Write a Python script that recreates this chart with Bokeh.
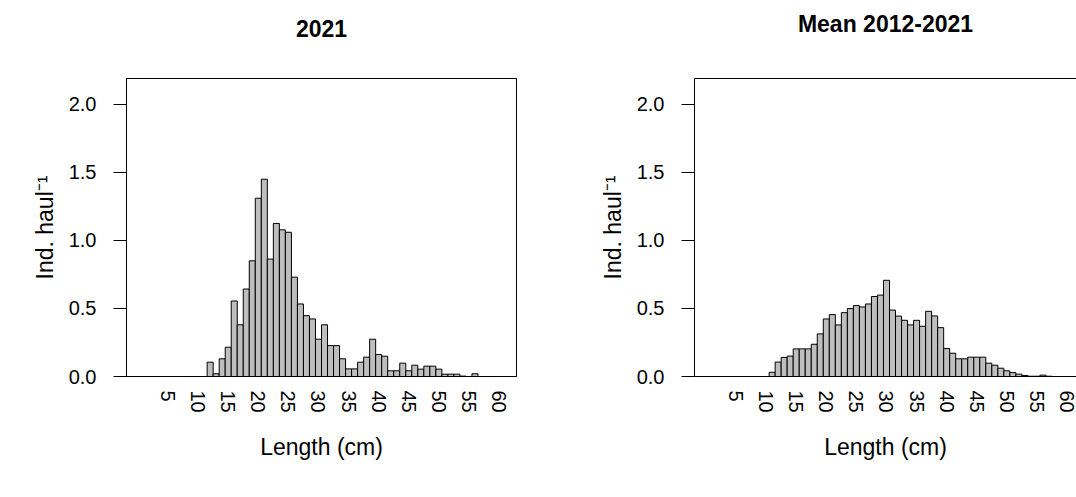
from bokeh.plotting import figure
from bokeh.layouts import row
from bokeh.models import Range1d, FixedTicker, LinearAxis, PrintfTickFormatter
from bokeh.embed import file_html
from bokeh.resources import INLINE

# ---------------- data ----------------
lengths = list(range(1, 61))

ind_2021 = [0, 0, 0, 0, 0, 0, 0, 0, 0, 0, 0,
            0.105, 0.02, 0.13, 0.215, 0.555, 0.38, 0.643, 0.85, 1.31,
            1.45, 0.863, 1.125, 1.078, 1.06, 0.73, 0.533, 0.447, 0.423, 0.274,
            0.38, 0.227, 0.227, 0.13, 0.056, 0.056, 0.105, 0.142, 0.274, 0.161,
            0.149, 0.042, 0.042, 0.098, 0.042, 0.083, 0.054, 0.076, 0.076, 0.054,
            0.017, 0.017, 0.017, 0.003, 0.0, 0.02, 0, 0, 0, 0]

ind_mean = [0, 0, 0, 0, 0, 0, 0, 0, 0, 0,
            0.031, 0.106, 0.14, 0.15, 0.203, 0.203, 0.203, 0.237, 0.313, 0.423,
            0.455, 0.379, 0.469, 0.499, 0.521, 0.511, 0.533, 0.588, 0.598, 0.707,
            0.488, 0.444, 0.413, 0.379, 0.413, 0.369, 0.479, 0.445, 0.359, 0.205,
            0.171, 0.130, 0.130, 0.142, 0.142, 0.142, 0.098, 0.083, 0.061, 0.042,
            0.029, 0.017, 0.007, 0.002, 0.002, 0.01, 0.002, 0, 0, 0]

x_tick_labels = [5, 10, 15, 20, 25, 30, 35, 40, 45, 50, 55, 60]
y_ticks = [0.0, 0.5, 1.0, 1.5, 2.0]
panel_titles = ["2021", "Mean 2012-2021"]
x_label = "Length (cm)"
y_label = "Ind. haul\u207b\u00b9"

FONT = "Liberation Sans"
TICK_FS = "20px"
LAB_FS = "23px"
TITLE_FS = "23px"

FRAME_W = 390
FRAME_H = 298
HEIGHT = 497
TOP = 78
Y_MAX = 2.19
PAD = 0.04 * len(lengths)
X_START = lengths[0] - 0.5 - PAD
X_END_FULL = lengths[-1] + 0.5 + PAD


def make_panel(title, values, width, min_left, min_right, outline):
    frame_w = width - min_left - min_right
    x_end = X_START + (X_END_FULL - X_START) * frame_w / FRAME_W
    p = figure(width=width, height=HEIGHT, output_backend="svg", toolbar_location=None,
               x_range=Range1d(X_START, x_end), y_range=Range1d(0, Y_MAX),
               min_border_left=min_left, min_border_right=min_right,
               min_border_top=TOP, min_border_bottom=HEIGHT - TOP - FRAME_H,
               x_axis_location="below", y_axis_location="left")
    p.background_fill_color = "white"
    p.border_fill_color = "white"
    p.xgrid.visible = False
    p.ygrid.visible = False
    p.outline_line_color = "black" if outline else None
    p.outline_line_width = 1

    p.vbar(x=lengths, top=values, bottom=0, width=1.0,
           fill_color="#bebebe", line_color="black", line_width=1)

    # y axis
    ya = p.yaxis[0]
    ya.ticker = FixedTicker(ticks=y_ticks)
    ya.formatter = PrintfTickFormatter(format="%.1f")
    ya.major_tick_out = 13
    ya.major_tick_in = 0
    ya.minor_tick_out = 0
    ya.minor_tick_in = 0
    ya.major_tick_line_color = "black"
    ya.axis_line_color = "black"
    ya.major_label_standoff = 17
    ya.major_label_text_font = FONT
    ya.major_label_text_font_size = TICK_FS
    ya.major_label_text_color = "black"
    ya.axis_label = y_label
    ya.axis_label_text_font = FONT
    ya.axis_label_text_font_size = LAB_FS
    ya.axis_label_text_font_style = "normal"
    ya.axis_label_text_color = "black"
    ya.axis_label_standoff = 8

    # x axis
    xa = p.xaxis[0]
    xa.ticker = FixedTicker(ticks=x_tick_labels)
    xa.major_label_orientation = "vertical"
    xa.major_tick_out = 0
    xa.major_tick_in = 0
    xa.minor_tick_out = 0
    xa.minor_tick_in = 0
    xa.axis_line_color = "black"
    xa.major_label_standoff = 14
    xa.major_label_text_font = FONT
    xa.major_label_text_font_size = TICK_FS
    xa.major_label_text_color = "black"
    xa.axis_label = x_label
    xa.axis_label_text_font = FONT
    xa.axis_label_text_font_size = LAB_FS
    xa.axis_label_text_font_style = "normal"
    xa.axis_label_text_color = "black"
    xa.axis_label_standoff = 18

    # top axis carries the panel title and the top edge of the box
    ta = LinearAxis(ticker=FixedTicker(ticks=[]), axis_label=title)
    ta.major_tick_out = 0
    ta.major_tick_in = 0
    ta.minor_tick_out = 0
    ta.minor_tick_in = 0
    ta.major_label_standoff = 0
    ta.major_label_text_font_size = "0px"
    ta.axis_line_color = "black"
    ta.axis_label_text_font = FONT
    ta.axis_label_text_font_size = TITLE_FS
    ta.axis_label_text_font_style = "bold"
    ta.axis_label_text_color = "black"
    ta.axis_label_standoff = 42
    p.add_layout(ta, "above")
    return p


left = make_panel(panel_titles[0], ind_2021, width=588, min_left=126, min_right=72, outline=True)
right = make_panel(panel_titles[1], ind_mean, width=488, min_left=106, min_right=0, outline=False)

layout = row(left, right, spacing=0)
open("out.html", "w").write(file_html(layout, INLINE))
